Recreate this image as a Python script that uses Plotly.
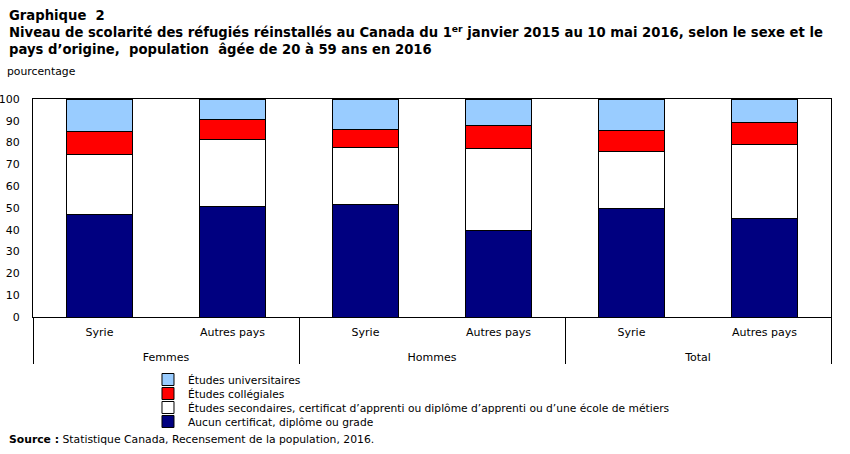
import plotly.graph_objects as go

sexes = ["Femmes", "Femmes", "Hommes", "Hommes", "Total", "Total"]
pays = ["Syrie", "Autres pays", "Syrie", "Autres pays", "Syrie", "Autres pays"]

aucun = [47.1, 50.8, 51.7, 39.8, 49.6, 45.4]
secondaires = [27.5, 30.7, 26.1, 37.6, 26.3, 33.7]
collegiales = [10.6, 9.2, 8.4, 10.6, 9.8, 10.2]
universitaires = [14.8, 9.3, 13.8, 12.0, 14.3, 10.7]

series = [
    ("Aucun certificat, diplôme ou grade", aucun, "#000080"),
    ("Études secondaires, certificat d’apprenti ou diplôme d’apprenti ou d’une école de métiers", secondaires, "#FFFFFF"),
    ("Études collégiales", collegiales, "#FF0000"),
    ("Études universitaires", universitaires, "#99CCFF"),
]

FONT = "DejaVu Sans"

# each series gets its own legend box so the entries can sit close together
legend_ids = ["legend4", "legend3", "legend2", "legend"]
legend_y = [-0.4128, -0.3486, -0.2844, -0.2202]

# second-level labels pushed one line down to leave room like the original
group_labels = ["&nbsp;<br>" + s for s in sexes]

fig = go.Figure()
for (name, vals, col), lid in zip(series, legend_ids):
    fig.add_trace(go.Bar(
        x=[group_labels, pays], y=vals, name=name,
        marker=dict(color=col, line=dict(color="black", width=1)),
        width=0.5, legend=lid,
    ))

title_text = ("<b>Graphique  2</b><br>"
              "<b>Niveau de scolarité des réfugiés réinstallés au Canada du 1<sup>er</sup> janvier 2015 au 10 mai 2016, selon le sexe et le</b><br>"
              "<b>pays d’origine,  population  âgée de 20 à 59 ans en 2016</b>")

legend_common = dict(x=0.1441, xanchor="left", yanchor="top",
                     font=dict(size=10.7), bgcolor="rgba(0,0,0,0)")

fig.update_layout(
    width=850, height=454,
    barmode="stack",
    paper_bgcolor="white", plot_bgcolor="white",
    margin=dict(l=33, r=19, t=99, b=137, autoexpand=False),
    font=dict(family=FONT, size=11, color="black"),
    xaxis=dict(
        type="multicategory",
        showline=True, linecolor="black", linewidth=1, mirror=True,
        showdividers=True, dividercolor="black", dividerwidth=1,
        ticks="", tickfont=dict(size=11), ticklabelstandoff=5,
    ),
    yaxis=dict(
        range=[0, 100], dtick=10,
        showline=True, linecolor="black", linewidth=1, mirror=True,
        showgrid=False, zeroline=False, ticks="",
        tickfont=dict(size=11), ticklabelstandoff=10,
    ),
    legend=dict(y=legend_y[3], **legend_common),
    legend2=dict(y=legend_y[2], **legend_common),
    legend3=dict(y=legend_y[1], **legend_common),
    legend4=dict(y=legend_y[0], **legend_common),
    showlegend=True,
    annotations=[
        dict(text=title_text, xref="paper", yref="paper", x=-0.0326, y=1.427,
             xanchor="left", yanchor="top", align="left", showarrow=False,
             font=dict(size=13.2)),
        dict(text="pourcentage", xref="paper", yref="paper", x=-0.0351, y=1.1239,
             xanchor="left", yanchor="middle", showarrow=False, font=dict(size=10.8)),
        dict(text="<b>Source :</b> Statistique Canada, Recensement de la population, 2016.",
             xref="paper", yref="paper", x=-0.0326, y=-0.5642,
             xanchor="left", yanchor="middle", showarrow=False, font=dict(size=10.8)),
    ],
)

fig.write_html("out.html")
